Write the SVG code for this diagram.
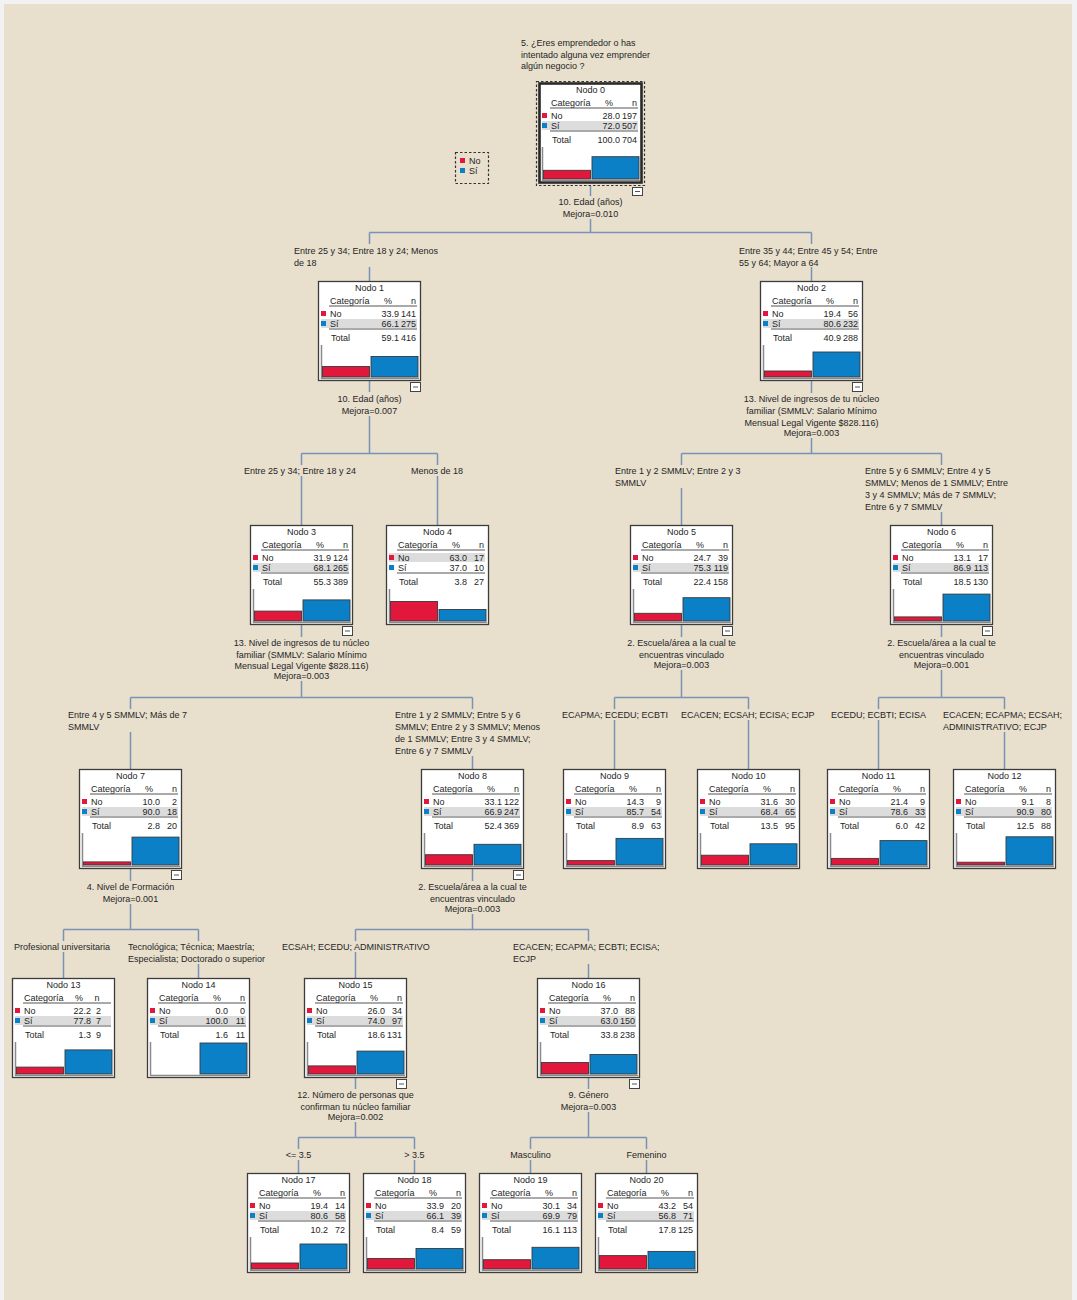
<svg xmlns="http://www.w3.org/2000/svg" width="1077" height="1300" viewBox="0 0 1077 1300">
<style>
.t{font-family:"Liberation Sans",Arial,sans-serif;font-size:9px;fill:#262626}
.m{text-anchor:middle}
.e{text-anchor:end}
.box{fill:#fff;stroke:#3c3c3c;stroke-width:1.3}
.box0{fill:#fff;stroke:#2a2a2a;stroke-width:2.6}
.band{fill:#dcdcdc}
.rule{stroke:#555;stroke-width:1}
.axis{stroke:#8a8a8a;stroke-width:1.5;fill:none}
.sqn{fill:#e1173b}
.sqs{fill:#0b80c6}
.no{fill:#e1173b;stroke:#3a3a3a;stroke-width:0.9}
.si{fill:#0b80c6;stroke:#3a3a3a;stroke-width:0.9}
.conn{stroke:#7892b8;stroke-width:1.5;fill:none}
.btn{fill:#fff;stroke:#444;stroke-width:1}
.dash{fill:none;stroke:#333;stroke-width:1.2;stroke-dasharray:2.5,2}
</style>
<rect x="0" y="0" width="1077" height="1300" fill="#f2f1f3"/>
<rect x="4" y="4" width="1068" height="1296" fill="#e8dfcd"/>

<g id="connectors">
<path class="conn" d="M590.5,186V196M590.5,219V232.5M369.5,232.5H811.5M369.5,232.5V244M369.5,267V281M811.5,232.5V244M811.5,267V281"/>
<path class="conn" d="M369.5,380V392M369.5,416V453.5M301.5,453.5H437.5M301.5,453.5V465M301.5,476V525M437.5,453.5V465M437.5,476V525"/>
<path class="conn" d="M811.5,380V393M811.5,438V453.5M681.5,453.5H941.5M681.5,453.5V465M681.5,488V525M941.5,453.5V465M941.5,512V525"/>
<path class="conn" d="M301.5,624V637M301.5,681V697.5M130.5,697.5H472.5M130.5,697.5V709M130.5,732V769M472.5,697.5V709M472.5,756V769"/>
<path class="conn" d="M681.5,624V637M681.5,670V697.5M614.5,697.5H748.5M614.5,697.5V709M614.5,720V769M748.5,697.5V709M748.5,720V769"/>
<path class="conn" d="M941.5,624V637M941.5,670V697.5M878.5,697.5H1004.5M878.5,697.5V709M878.5,720V769M1004.5,697.5V709M1004.5,732V769"/>
<path class="conn" d="M130.5,868V881M130.5,904V929.5M63.5,929.5H198.5M63.5,929.5V941M63.5,952V978M198.5,929.5V941M198.5,964V978"/>
<path class="conn" d="M472.5,868V881M472.5,914V929.5M355.5,929.5H588.5M355.5,929.5V941M355.5,952V978M588.5,929.5V941M588.5,964V978"/>
<path class="conn" d="M355.5,1077V1089M355.5,1122V1137.5M298.5,1137.5H414.5M298.5,1137.5V1149M298.5,1160V1173M414.5,1137.5V1149M414.5,1160V1173"/>
<path class="conn" d="M588.5,1077V1089M588.5,1112V1137.5M530.5,1137.5H646.5M530.5,1137.5V1149M530.5,1160V1173M646.5,1137.5V1149M646.5,1160V1173"/>
</g>

<g id="labels">
<text class="t" x="521" y="46">5. ¿Eres emprendedor o has</text>
<text class="t" x="521" y="58">intentado alguna vez emprender</text>
<text class="t" x="521" y="69">algún negocio ?</text>
<text class="t m" x="590.5" y="205">10. Edad (años)</text>
<text class="t m" x="590.5" y="217">Mejora=0.010</text>
<text class="t" x="294" y="254">Entre 25 y 34; Entre 18 y 24; Menos</text>
<text class="t" x="294" y="266">de 18</text>
<text class="t" x="739" y="254">Entre 35 y 44; Entre 45 y 54; Entre</text>
<text class="t" x="739" y="266">55 y 64; Mayor a 64</text>
<text class="t m" x="369.5" y="402">10. Edad (años)</text>
<text class="t m" x="369.5" y="414">Mejora=0.007</text>
<text class="t m" x="811.5" y="402">13. Nivel de ingresos de tu núcleo</text>
<text class="t m" x="811.5" y="414">familiar (SMMLV: Salario Mínimo</text>
<text class="t m" x="811.5" y="426">Mensual Legal Vigente $828.116)</text>
<text class="t m" x="811.5" y="436">Mejora=0.003</text>
<text class="t" x="244" y="474">Entre 25 y 34; Entre 18 y 24</text>
<text class="t" x="411" y="474">Menos de 18</text>
<text class="t" x="615" y="474">Entre 1 y 2 SMMLV; Entre 2 y 3</text>
<text class="t" x="615" y="486">SMMLV</text>
<text class="t" x="865" y="474">Entre 5 y 6 SMMLV; Entre 4 y 5</text>
<text class="t" x="865" y="486">SMMLV; Menos de 1 SMMLV; Entre</text>
<text class="t" x="865" y="498">3 y 4 SMMLV; Más de 7 SMMLV;</text>
<text class="t" x="865" y="510">Entre 6 y 7 SMMLV</text>
<text class="t m" x="301.5" y="646">13. Nivel de ingresos de tu núcleo</text>
<text class="t m" x="301.5" y="658">familiar (SMMLV: Salario Mínimo</text>
<text class="t m" x="301.5" y="669">Mensual Legal Vigente $828.116)</text>
<text class="t m" x="301.5" y="679">Mejora=0.003</text>
<text class="t m" x="681.5" y="646">2. Escuela/área a la cual te</text>
<text class="t m" x="681.5" y="658">encuentras vinculado</text>
<text class="t m" x="681.5" y="668">Mejora=0.003</text>
<text class="t m" x="941.5" y="646">2. Escuela/área a la cual te</text>
<text class="t m" x="941.5" y="658">encuentras vinculado</text>
<text class="t m" x="941.5" y="668">Mejora=0.001</text>
<text class="t" x="68" y="718">Entre 4 y 5 SMMLV; Más de 7</text>
<text class="t" x="68" y="730">SMMLV</text>
<text class="t" x="395" y="718">Entre 1 y 2 SMMLV; Entre 5 y 6</text>
<text class="t" x="395" y="730">SMMLV; Entre 2 y 3 SMMLV; Menos</text>
<text class="t" x="395" y="742">de 1 SMMLV; Entre 3 y 4 SMMLV;</text>
<text class="t" x="395" y="754">Entre 6 y 7 SMMLV</text>
<text class="t" x="562" y="718">ECAPMA; ECEDU; ECBTI</text>
<text class="t" x="681" y="718">ECACEN; ECSAH; ECISA; ECJP</text>
<text class="t" x="831" y="718">ECEDU; ECBTI; ECISA</text>
<text class="t" x="943" y="718">ECACEN; ECAPMA; ECSAH;</text>
<text class="t" x="943" y="730">ADMINISTRATIVO; ECJP</text>
<text class="t m" x="130.5" y="890">4. Nivel de Formación</text>
<text class="t m" x="130.5" y="902">Mejora=0.001</text>
<text class="t m" x="472.5" y="890">2. Escuela/área a la cual te</text>
<text class="t m" x="472.5" y="902">encuentras vinculado</text>
<text class="t m" x="472.5" y="912">Mejora=0.003</text>
<text class="t" x="14" y="950">Profesional universitaria</text>
<text class="t" x="128" y="950">Tecnológica; Técnica; Maestría;</text>
<text class="t" x="128" y="962">Especialista; Doctorado o superior</text>
<text class="t" x="282" y="950">ECSAH; ECEDU; ADMINISTRATIVO</text>
<text class="t" x="513" y="950">ECACEN; ECAPMA; ECBTI; ECISA;</text>
<text class="t" x="513" y="962">ECJP</text>
<text class="t m" x="355.5" y="1098">12. Número de personas que</text>
<text class="t m" x="355.5" y="1110">confirman tu núcleo familiar</text>
<text class="t m" x="355.5" y="1120">Mejora=0.002</text>
<text class="t m" x="588.5" y="1098">9. Género</text>
<text class="t m" x="588.5" y="1110">Mejora=0.003</text>
<text class="t m" x="298.5" y="1158">&lt;= 3.5</text>
<text class="t m" x="414.5" y="1158">&gt; 3.5</text>
<text class="t m" x="530.5" y="1158">Masculino</text>
<text class="t m" x="646.5" y="1158">Femenino</text>
</g>

<g id="legend">
<rect class="dash" x="455.5" y="152.5" width="33" height="31"/>
<rect class="sqn" x="460" y="158" width="5" height="5"/>
<text class="t" x="469" y="164">No</text>
<rect class="sqs" x="460" y="168" width="5" height="5"/>
<text class="t" x="469" y="174">Sí</text>
</g>

<g id="node0" transform="translate(539,83)">
<rect class="dash" x="-2.5" y="-1.5" width="108" height="104"/>
<rect class="box0" x="0.5" y="0.5" width="102" height="99"/>
<rect class="band" x="3" y="38" width="96" height="9"/>
<text class="t m" x="51.5" y="10">Nodo 0</text>
<text class="t" x="12" y="23">Categoría</text><text class="t m" x="70" y="23">%</text><text class="t e" x="98" y="23">n</text>
<line class="rule" x1="11" y1="25" x2="99" y2="25"/>
<rect class="sqn" x="3" y="30" width="5" height="5"/><text class="t" x="12" y="36">No</text><text class="t e" x="81" y="36">28.0</text><text class="t e" x="98" y="36">197</text>
<rect class="sqs" x="3" y="40" width="5" height="5"/><text class="t" x="12" y="46">Sí</text><text class="t e" x="81" y="46">72.0</text><text class="t e" x="98" y="46">507</text>
<line class="rule" x1="11" y1="48" x2="99" y2="48"/>
<text class="t" x="13" y="60">Total</text><text class="t e" x="81" y="60">100.0</text><text class="t e" x="98" y="60">704</text>
<path class="axis" d="M3.5,64V97.5H101"/>
<rect class="no" x="4.5" y="87.3" width="47" height="8.7"/>
<rect class="si" x="53" y="73.7" width="47" height="22.3"/>
<rect class="btn" x="93.5" y="104.5" width="10" height="8"/><line class="rule" x1="96" y1="108.5" x2="101" y2="108.5"/>
</g>

<g id="node1" transform="translate(318,281)">
<rect class="box" x="0.5" y="0.5" width="102" height="99"/>
<rect class="band" x="3" y="38" width="96" height="9"/>
<text class="t m" x="51.5" y="10">Nodo 1</text>
<text class="t" x="12" y="23">Categoría</text><text class="t m" x="70" y="23">%</text><text class="t e" x="98" y="23">n</text>
<line class="rule" x1="11" y1="25" x2="99" y2="25"/>
<rect class="sqn" x="3" y="30" width="5" height="5"/><text class="t" x="12" y="36">No</text><text class="t e" x="81" y="36">33.9</text><text class="t e" x="98" y="36">141</text>
<rect class="sqs" x="3" y="40" width="5" height="5"/><text class="t" x="12" y="46">Sí</text><text class="t e" x="81" y="46">66.1</text><text class="t e" x="98" y="46">275</text>
<line class="rule" x1="11" y1="48" x2="99" y2="48"/>
<text class="t" x="13" y="60">Total</text><text class="t e" x="81" y="60">59.1</text><text class="t e" x="98" y="60">416</text>
<path class="axis" d="M3.5,64V97.5H101"/>
<rect class="no" x="4.5" y="85.5" width="47" height="10.5"/>
<rect class="si" x="53" y="75.5" width="47" height="20.5"/>
<rect class="btn" x="92.5" y="101.5" width="10" height="9"/><line class="rule" x1="95" y1="106" x2="100" y2="106"/>
</g>

<g id="node2" transform="translate(760,281)">
<rect class="box" x="0.5" y="0.5" width="102" height="99"/>
<rect class="band" x="3" y="38" width="96" height="9"/>
<text class="t m" x="51.5" y="10">Nodo 2</text>
<text class="t" x="12" y="23">Categoría</text><text class="t m" x="70" y="23">%</text><text class="t e" x="98" y="23">n</text>
<line class="rule" x1="11" y1="25" x2="99" y2="25"/>
<rect class="sqn" x="3" y="30" width="5" height="5"/><text class="t" x="12" y="36">No</text><text class="t e" x="81" y="36">19.4</text><text class="t e" x="98" y="36">56</text>
<rect class="sqs" x="3" y="40" width="5" height="5"/><text class="t" x="12" y="46">Sí</text><text class="t e" x="81" y="46">80.6</text><text class="t e" x="98" y="46">232</text>
<line class="rule" x1="11" y1="48" x2="99" y2="48"/>
<text class="t" x="13" y="60">Total</text><text class="t e" x="81" y="60">40.9</text><text class="t e" x="98" y="60">288</text>
<path class="axis" d="M3.5,64V97.5H101"/>
<rect class="no" x="4.5" y="90" width="47" height="6"/>
<rect class="si" x="53" y="71" width="47" height="25"/>
<rect class="btn" x="92.5" y="101.5" width="10" height="9"/><line class="rule" x1="95" y1="106" x2="100" y2="106"/>
</g>

<g id="node3" transform="translate(250,525)">
<rect class="box" x="0.5" y="0.5" width="102" height="99"/>
<rect class="band" x="3" y="38" width="96" height="9"/>
<text class="t m" x="51.5" y="10">Nodo 3</text>
<text class="t" x="12" y="23">Categoría</text><text class="t m" x="70" y="23">%</text><text class="t e" x="98" y="23">n</text>
<line class="rule" x1="11" y1="25" x2="99" y2="25"/>
<rect class="sqn" x="3" y="30" width="5" height="5"/><text class="t" x="12" y="36">No</text><text class="t e" x="81" y="36">31.9</text><text class="t e" x="98" y="36">124</text>
<rect class="sqs" x="3" y="40" width="5" height="5"/><text class="t" x="12" y="46">Sí</text><text class="t e" x="81" y="46">68.1</text><text class="t e" x="98" y="46">265</text>
<line class="rule" x1="11" y1="48" x2="99" y2="48"/>
<text class="t" x="13" y="60">Total</text><text class="t e" x="81" y="60">55.3</text><text class="t e" x="98" y="60">389</text>
<path class="axis" d="M3.5,64V97.5H101"/>
<rect class="no" x="4.5" y="86.1" width="47" height="9.9"/>
<rect class="si" x="53" y="74.9" width="47" height="21.1"/>
<rect class="btn" x="92.5" y="101.5" width="10" height="9"/><line class="rule" x1="95" y1="106" x2="100" y2="106"/>
</g>

<g id="node4" transform="translate(386,525)">
<rect class="box" x="0.5" y="0.5" width="102" height="99"/>
<rect class="band" x="3" y="28" width="96" height="9"/>
<text class="t m" x="51.5" y="10">Nodo 4</text>
<text class="t" x="12" y="23">Categoría</text><text class="t m" x="70" y="23">%</text><text class="t e" x="98" y="23">n</text>
<line class="rule" x1="11" y1="25" x2="99" y2="25"/>
<rect class="sqn" x="3" y="30" width="5" height="5"/><text class="t" x="12" y="36">No</text><text class="t e" x="81" y="36">63.0</text><text class="t e" x="98" y="36">17</text>
<rect class="sqs" x="3" y="40" width="5" height="5"/><text class="t" x="12" y="46">Sí</text><text class="t e" x="81" y="46">37.0</text><text class="t e" x="98" y="46">10</text>
<line class="rule" x1="11" y1="48" x2="99" y2="48"/>
<text class="t" x="13" y="60">Total</text><text class="t e" x="81" y="60">3.8</text><text class="t e" x="98" y="60">27</text>
<path class="axis" d="M3.5,64V97.5H101"/>
<rect class="no" x="4.5" y="76.5" width="47" height="19.5"/>
<rect class="si" x="53" y="84.5" width="47" height="11.5"/>
</g>

<g id="node5" transform="translate(630,525)">
<rect class="box" x="0.5" y="0.5" width="102" height="99"/>
<rect class="band" x="3" y="38" width="96" height="9"/>
<text class="t m" x="51.5" y="10">Nodo 5</text>
<text class="t" x="12" y="23">Categoría</text><text class="t m" x="70" y="23">%</text><text class="t e" x="98" y="23">n</text>
<line class="rule" x1="11" y1="25" x2="99" y2="25"/>
<rect class="sqn" x="3" y="30" width="5" height="5"/><text class="t" x="12" y="36">No</text><text class="t e" x="81" y="36">24.7</text><text class="t e" x="98" y="36">39</text>
<rect class="sqs" x="3" y="40" width="5" height="5"/><text class="t" x="12" y="46">Sí</text><text class="t e" x="81" y="46">75.3</text><text class="t e" x="98" y="46">119</text>
<line class="rule" x1="11" y1="48" x2="99" y2="48"/>
<text class="t" x="13" y="60">Total</text><text class="t e" x="81" y="60">22.4</text><text class="t e" x="98" y="60">158</text>
<path class="axis" d="M3.5,64V97.5H101"/>
<rect class="no" x="4.5" y="88.3" width="47" height="7.7"/>
<rect class="si" x="53" y="72.7" width="47" height="23.3"/>
<rect class="btn" x="92.5" y="101.5" width="10" height="9"/><line class="rule" x1="95" y1="106" x2="100" y2="106"/>
</g>

<g id="node6" transform="translate(890,525)">
<rect class="box" x="0.5" y="0.5" width="102" height="99"/>
<rect class="band" x="3" y="38" width="96" height="9"/>
<text class="t m" x="51.5" y="10">Nodo 6</text>
<text class="t" x="12" y="23">Categoría</text><text class="t m" x="70" y="23">%</text><text class="t e" x="98" y="23">n</text>
<line class="rule" x1="11" y1="25" x2="99" y2="25"/>
<rect class="sqn" x="3" y="30" width="5" height="5"/><text class="t" x="12" y="36">No</text><text class="t e" x="81" y="36">13.1</text><text class="t e" x="98" y="36">17</text>
<rect class="sqs" x="3" y="40" width="5" height="5"/><text class="t" x="12" y="46">Sí</text><text class="t e" x="81" y="46">86.9</text><text class="t e" x="98" y="46">113</text>
<line class="rule" x1="11" y1="48" x2="99" y2="48"/>
<text class="t" x="13" y="60">Total</text><text class="t e" x="81" y="60">18.5</text><text class="t e" x="98" y="60">130</text>
<path class="axis" d="M3.5,64V97.5H101"/>
<rect class="no" x="4.5" y="91.9" width="47" height="4.1"/>
<rect class="si" x="53" y="69.1" width="47" height="26.9"/>
<rect class="btn" x="92.5" y="101.5" width="10" height="9"/><line class="rule" x1="95" y1="106" x2="100" y2="106"/>
</g>

<g id="node7" transform="translate(79,769)">
<rect class="box" x="0.5" y="0.5" width="102" height="99"/>
<rect class="band" x="3" y="38" width="96" height="9"/>
<text class="t m" x="51.5" y="10">Nodo 7</text>
<text class="t" x="12" y="23">Categoría</text><text class="t m" x="70" y="23">%</text><text class="t e" x="98" y="23">n</text>
<line class="rule" x1="11" y1="25" x2="99" y2="25"/>
<rect class="sqn" x="3" y="30" width="5" height="5"/><text class="t" x="12" y="36">No</text><text class="t e" x="81" y="36">10.0</text><text class="t e" x="98" y="36">2</text>
<rect class="sqs" x="3" y="40" width="5" height="5"/><text class="t" x="12" y="46">Sí</text><text class="t e" x="81" y="46">90.0</text><text class="t e" x="98" y="46">18</text>
<line class="rule" x1="11" y1="48" x2="99" y2="48"/>
<text class="t" x="13" y="60">Total</text><text class="t e" x="81" y="60">2.8</text><text class="t e" x="98" y="60">20</text>
<path class="axis" d="M3.5,64V97.5H101"/>
<rect class="no" x="4.5" y="92.9" width="47" height="3.1"/>
<rect class="si" x="53" y="68.1" width="47" height="27.9"/>
<rect class="btn" x="92.5" y="101.5" width="10" height="9"/><line class="rule" x1="95" y1="106" x2="100" y2="106"/>
</g>

<g id="node8" transform="translate(421,769)">
<rect class="box" x="0.5" y="0.5" width="102" height="99"/>
<rect class="band" x="3" y="38" width="96" height="9"/>
<text class="t m" x="51.5" y="10">Nodo 8</text>
<text class="t" x="12" y="23">Categoría</text><text class="t m" x="70" y="23">%</text><text class="t e" x="98" y="23">n</text>
<line class="rule" x1="11" y1="25" x2="99" y2="25"/>
<rect class="sqn" x="3" y="30" width="5" height="5"/><text class="t" x="12" y="36">No</text><text class="t e" x="81" y="36">33.1</text><text class="t e" x="98" y="36">122</text>
<rect class="sqs" x="3" y="40" width="5" height="5"/><text class="t" x="12" y="46">Sí</text><text class="t e" x="81" y="46">66.9</text><text class="t e" x="98" y="46">247</text>
<line class="rule" x1="11" y1="48" x2="99" y2="48"/>
<text class="t" x="13" y="60">Total</text><text class="t e" x="81" y="60">52.4</text><text class="t e" x="98" y="60">369</text>
<path class="axis" d="M3.5,64V97.5H101"/>
<rect class="no" x="4.5" y="85.7" width="47" height="10.3"/>
<rect class="si" x="53" y="75.3" width="47" height="20.7"/>
<rect class="btn" x="92.5" y="101.5" width="10" height="9"/><line class="rule" x1="95" y1="106" x2="100" y2="106"/>
</g>

<g id="node9" transform="translate(563,769)">
<rect class="box" x="0.5" y="0.5" width="102" height="99"/>
<rect class="band" x="3" y="38" width="96" height="9"/>
<text class="t m" x="51.5" y="10">Nodo 9</text>
<text class="t" x="12" y="23">Categoría</text><text class="t m" x="70" y="23">%</text><text class="t e" x="98" y="23">n</text>
<line class="rule" x1="11" y1="25" x2="99" y2="25"/>
<rect class="sqn" x="3" y="30" width="5" height="5"/><text class="t" x="12" y="36">No</text><text class="t e" x="81" y="36">14.3</text><text class="t e" x="98" y="36">9</text>
<rect class="sqs" x="3" y="40" width="5" height="5"/><text class="t" x="12" y="46">Sí</text><text class="t e" x="81" y="46">85.7</text><text class="t e" x="98" y="46">54</text>
<line class="rule" x1="11" y1="48" x2="99" y2="48"/>
<text class="t" x="13" y="60">Total</text><text class="t e" x="81" y="60">8.9</text><text class="t e" x="98" y="60">63</text>
<path class="axis" d="M3.5,64V97.5H101"/>
<rect class="no" x="4.5" y="91.6" width="47" height="4.4"/>
<rect class="si" x="53" y="69.4" width="47" height="26.6"/>
</g>

<g id="node10" transform="translate(697,769)">
<rect class="box" x="0.5" y="0.5" width="102" height="99"/>
<rect class="band" x="3" y="38" width="96" height="9"/>
<text class="t m" x="51.5" y="10">Nodo 10</text>
<text class="t" x="12" y="23">Categoría</text><text class="t m" x="70" y="23">%</text><text class="t e" x="98" y="23">n</text>
<line class="rule" x1="11" y1="25" x2="99" y2="25"/>
<rect class="sqn" x="3" y="30" width="5" height="5"/><text class="t" x="12" y="36">No</text><text class="t e" x="81" y="36">31.6</text><text class="t e" x="98" y="36">30</text>
<rect class="sqs" x="3" y="40" width="5" height="5"/><text class="t" x="12" y="46">Sí</text><text class="t e" x="81" y="46">68.4</text><text class="t e" x="98" y="46">65</text>
<line class="rule" x1="11" y1="48" x2="99" y2="48"/>
<text class="t" x="13" y="60">Total</text><text class="t e" x="81" y="60">13.5</text><text class="t e" x="98" y="60">95</text>
<path class="axis" d="M3.5,64V97.5H101"/>
<rect class="no" x="4.5" y="86.2" width="47" height="9.8"/>
<rect class="si" x="53" y="74.8" width="47" height="21.2"/>
</g>

<g id="node11" transform="translate(827,769)">
<rect class="box" x="0.5" y="0.5" width="102" height="99"/>
<rect class="band" x="3" y="38" width="96" height="9"/>
<text class="t m" x="51.5" y="10">Nodo 11</text>
<text class="t" x="12" y="23">Categoría</text><text class="t m" x="70" y="23">%</text><text class="t e" x="98" y="23">n</text>
<line class="rule" x1="11" y1="25" x2="99" y2="25"/>
<rect class="sqn" x="3" y="30" width="5" height="5"/><text class="t" x="12" y="36">No</text><text class="t e" x="81" y="36">21.4</text><text class="t e" x="98" y="36">9</text>
<rect class="sqs" x="3" y="40" width="5" height="5"/><text class="t" x="12" y="46">Sí</text><text class="t e" x="81" y="46">78.6</text><text class="t e" x="98" y="46">33</text>
<line class="rule" x1="11" y1="48" x2="99" y2="48"/>
<text class="t" x="13" y="60">Total</text><text class="t e" x="81" y="60">6.0</text><text class="t e" x="98" y="60">42</text>
<path class="axis" d="M3.5,64V97.5H101"/>
<rect class="no" x="4.5" y="89.4" width="47" height="6.6"/>
<rect class="si" x="53" y="71.6" width="47" height="24.4"/>
</g>

<g id="node12" transform="translate(953,769)">
<rect class="box" x="0.5" y="0.5" width="102" height="99"/>
<rect class="band" x="3" y="38" width="96" height="9"/>
<text class="t m" x="51.5" y="10">Nodo 12</text>
<text class="t" x="12" y="23">Categoría</text><text class="t m" x="70" y="23">%</text><text class="t e" x="98" y="23">n</text>
<line class="rule" x1="11" y1="25" x2="99" y2="25"/>
<rect class="sqn" x="3" y="30" width="5" height="5"/><text class="t" x="12" y="36">No</text><text class="t e" x="81" y="36">9.1</text><text class="t e" x="98" y="36">8</text>
<rect class="sqs" x="3" y="40" width="5" height="5"/><text class="t" x="12" y="46">Sí</text><text class="t e" x="81" y="46">90.9</text><text class="t e" x="98" y="46">80</text>
<line class="rule" x1="11" y1="48" x2="99" y2="48"/>
<text class="t" x="13" y="60">Total</text><text class="t e" x="81" y="60">12.5</text><text class="t e" x="98" y="60">88</text>
<path class="axis" d="M3.5,64V97.5H101"/>
<rect class="no" x="4.5" y="93.2" width="47" height="2.8"/>
<rect class="si" x="53" y="67.8" width="47" height="28.2"/>
</g>

<g id="node13" transform="translate(12,978)">
<rect class="box" x="0.5" y="0.5" width="102" height="99"/>
<rect class="band" x="3" y="38" width="96" height="9"/>
<text class="t m" x="51.5" y="10">Nodo 13</text>
<text class="t" x="12" y="23">Categoría</text><text class="t m" x="67" y="23">%</text><text class="t m" x="85" y="23">n</text>
<line class="rule" x1="11" y1="25" x2="99" y2="25"/>
<rect class="sqn" x="3" y="30" width="5" height="5"/><text class="t" x="12" y="36">No</text><text class="t e" x="79" y="36">22.2</text><text class="t e" x="89" y="36">2</text>
<rect class="sqs" x="3" y="40" width="5" height="5"/><text class="t" x="12" y="46">Sí</text><text class="t e" x="79" y="46">77.8</text><text class="t e" x="89" y="46">7</text>
<line class="rule" x1="11" y1="48" x2="99" y2="48"/>
<text class="t" x="13" y="60">Total</text><text class="t e" x="79" y="60">1.3</text><text class="t e" x="89" y="60">9</text>
<path class="axis" d="M3.5,64V97.5H101"/>
<rect class="no" x="4.5" y="89.1" width="47" height="6.9"/>
<rect class="si" x="53" y="71.9" width="47" height="24.1"/>
</g>

<g id="node14" transform="translate(147,978)">
<rect class="box" x="0.5" y="0.5" width="102" height="99"/>
<rect class="band" x="3" y="38" width="96" height="9"/>
<text class="t m" x="51.5" y="10">Nodo 14</text>
<text class="t" x="12" y="23">Categoría</text><text class="t m" x="70" y="23">%</text><text class="t e" x="98" y="23">n</text>
<line class="rule" x1="11" y1="25" x2="99" y2="25"/>
<rect class="sqn" x="3" y="30" width="5" height="5"/><text class="t" x="12" y="36">No</text><text class="t e" x="81" y="36">0.0</text><text class="t e" x="98" y="36">0</text>
<rect class="sqs" x="3" y="40" width="5" height="5"/><text class="t" x="12" y="46">Sí</text><text class="t e" x="81" y="46">100.0</text><text class="t e" x="98" y="46">11</text>
<line class="rule" x1="11" y1="48" x2="99" y2="48"/>
<text class="t" x="13" y="60">Total</text><text class="t e" x="81" y="60">1.6</text><text class="t e" x="98" y="60">11</text>
<path class="axis" d="M3.5,64V97.5H101"/>
<rect class="si" x="53" y="65" width="47" height="31"/>
</g>

<g id="node15" transform="translate(304,978)">
<rect class="box" x="0.5" y="0.5" width="102" height="99"/>
<rect class="band" x="3" y="38" width="96" height="9"/>
<text class="t m" x="51.5" y="10">Nodo 15</text>
<text class="t" x="12" y="23">Categoría</text><text class="t m" x="70" y="23">%</text><text class="t e" x="98" y="23">n</text>
<line class="rule" x1="11" y1="25" x2="99" y2="25"/>
<rect class="sqn" x="3" y="30" width="5" height="5"/><text class="t" x="12" y="36">No</text><text class="t e" x="81" y="36">26.0</text><text class="t e" x="98" y="36">34</text>
<rect class="sqs" x="3" y="40" width="5" height="5"/><text class="t" x="12" y="46">Sí</text><text class="t e" x="81" y="46">74.0</text><text class="t e" x="98" y="46">97</text>
<line class="rule" x1="11" y1="48" x2="99" y2="48"/>
<text class="t" x="13" y="60">Total</text><text class="t e" x="81" y="60">18.6</text><text class="t e" x="98" y="60">131</text>
<path class="axis" d="M3.5,64V97.5H101"/>
<rect class="no" x="4.5" y="87.9" width="47" height="8.1"/>
<rect class="si" x="53" y="73.1" width="47" height="22.9"/>
<rect class="btn" x="92.5" y="101.5" width="10" height="9"/><line class="rule" x1="95" y1="106" x2="100" y2="106"/>
</g>

<g id="node16" transform="translate(537,978)">
<rect class="box" x="0.5" y="0.5" width="102" height="99"/>
<rect class="band" x="3" y="38" width="96" height="9"/>
<text class="t m" x="51.5" y="10">Nodo 16</text>
<text class="t" x="12" y="23">Categoría</text><text class="t m" x="70" y="23">%</text><text class="t e" x="98" y="23">n</text>
<line class="rule" x1="11" y1="25" x2="99" y2="25"/>
<rect class="sqn" x="3" y="30" width="5" height="5"/><text class="t" x="12" y="36">No</text><text class="t e" x="81" y="36">37.0</text><text class="t e" x="98" y="36">88</text>
<rect class="sqs" x="3" y="40" width="5" height="5"/><text class="t" x="12" y="46">Sí</text><text class="t e" x="81" y="46">63.0</text><text class="t e" x="98" y="46">150</text>
<line class="rule" x1="11" y1="48" x2="99" y2="48"/>
<text class="t" x="13" y="60">Total</text><text class="t e" x="81" y="60">33.8</text><text class="t e" x="98" y="60">238</text>
<path class="axis" d="M3.5,64V97.5H101"/>
<rect class="no" x="4.5" y="84.5" width="47" height="11.5"/>
<rect class="si" x="53" y="76.5" width="47" height="19.5"/>
<rect class="btn" x="92.5" y="101.5" width="10" height="9"/><line class="rule" x1="95" y1="106" x2="100" y2="106"/>
</g>

<g id="node17" transform="translate(247,1173)">
<rect class="box" x="0.5" y="0.5" width="102" height="99"/>
<rect class="band" x="3" y="38" width="96" height="9"/>
<text class="t m" x="51.5" y="10">Nodo 17</text>
<text class="t" x="12" y="23">Categoría</text><text class="t m" x="70" y="23">%</text><text class="t e" x="98" y="23">n</text>
<line class="rule" x1="11" y1="25" x2="99" y2="25"/>
<rect class="sqn" x="3" y="30" width="5" height="5"/><text class="t" x="12" y="36">No</text><text class="t e" x="81" y="36">19.4</text><text class="t e" x="98" y="36">14</text>
<rect class="sqs" x="3" y="40" width="5" height="5"/><text class="t" x="12" y="46">Sí</text><text class="t e" x="81" y="46">80.6</text><text class="t e" x="98" y="46">58</text>
<line class="rule" x1="11" y1="48" x2="99" y2="48"/>
<text class="t" x="13" y="60">Total</text><text class="t e" x="81" y="60">10.2</text><text class="t e" x="98" y="60">72</text>
<path class="axis" d="M3.5,64V97.5H101"/>
<rect class="no" x="4.5" y="90" width="47" height="6"/>
<rect class="si" x="53" y="71" width="47" height="25"/>
</g>

<g id="node18" transform="translate(363,1173)">
<rect class="box" x="0.5" y="0.5" width="102" height="99"/>
<rect class="band" x="3" y="38" width="96" height="9"/>
<text class="t m" x="51.5" y="10">Nodo 18</text>
<text class="t" x="12" y="23">Categoría</text><text class="t m" x="70" y="23">%</text><text class="t e" x="98" y="23">n</text>
<line class="rule" x1="11" y1="25" x2="99" y2="25"/>
<rect class="sqn" x="3" y="30" width="5" height="5"/><text class="t" x="12" y="36">No</text><text class="t e" x="81" y="36">33.9</text><text class="t e" x="98" y="36">20</text>
<rect class="sqs" x="3" y="40" width="5" height="5"/><text class="t" x="12" y="46">Sí</text><text class="t e" x="81" y="46">66.1</text><text class="t e" x="98" y="46">39</text>
<line class="rule" x1="11" y1="48" x2="99" y2="48"/>
<text class="t" x="13" y="60">Total</text><text class="t e" x="81" y="60">8.4</text><text class="t e" x="98" y="60">59</text>
<path class="axis" d="M3.5,64V97.5H101"/>
<rect class="no" x="4.5" y="85.5" width="47" height="10.5"/>
<rect class="si" x="53" y="75.5" width="47" height="20.5"/>
</g>

<g id="node19" transform="translate(479,1173)">
<rect class="box" x="0.5" y="0.5" width="102" height="99"/>
<rect class="band" x="3" y="38" width="96" height="9"/>
<text class="t m" x="51.5" y="10">Nodo 19</text>
<text class="t" x="12" y="23">Categoría</text><text class="t m" x="70" y="23">%</text><text class="t e" x="98" y="23">n</text>
<line class="rule" x1="11" y1="25" x2="99" y2="25"/>
<rect class="sqn" x="3" y="30" width="5" height="5"/><text class="t" x="12" y="36">No</text><text class="t e" x="81" y="36">30.1</text><text class="t e" x="98" y="36">34</text>
<rect class="sqs" x="3" y="40" width="5" height="5"/><text class="t" x="12" y="46">Sí</text><text class="t e" x="81" y="46">69.9</text><text class="t e" x="98" y="46">79</text>
<line class="rule" x1="11" y1="48" x2="99" y2="48"/>
<text class="t" x="13" y="60">Total</text><text class="t e" x="81" y="60">16.1</text><text class="t e" x="98" y="60">113</text>
<path class="axis" d="M3.5,64V97.5H101"/>
<rect class="no" x="4.5" y="86.7" width="47" height="9.3"/>
<rect class="si" x="53" y="74.3" width="47" height="21.7"/>
</g>

<g id="node20" transform="translate(595,1173)">
<rect class="box" x="0.5" y="0.5" width="102" height="99"/>
<rect class="band" x="3" y="38" width="96" height="9"/>
<text class="t m" x="51.5" y="10">Nodo 20</text>
<text class="t" x="12" y="23">Categoría</text><text class="t m" x="70" y="23">%</text><text class="t e" x="98" y="23">n</text>
<line class="rule" x1="11" y1="25" x2="99" y2="25"/>
<rect class="sqn" x="3" y="30" width="5" height="5"/><text class="t" x="12" y="36">No</text><text class="t e" x="81" y="36">43.2</text><text class="t e" x="98" y="36">54</text>
<rect class="sqs" x="3" y="40" width="5" height="5"/><text class="t" x="12" y="46">Sí</text><text class="t e" x="81" y="46">56.8</text><text class="t e" x="98" y="46">71</text>
<line class="rule" x1="11" y1="48" x2="99" y2="48"/>
<text class="t" x="13" y="60">Total</text><text class="t e" x="81" y="60">17.8</text><text class="t e" x="98" y="60">125</text>
<path class="axis" d="M3.5,64V97.5H101"/>
<rect class="no" x="4.5" y="82.6" width="47" height="13.4"/>
<rect class="si" x="53" y="78.4" width="47" height="17.6"/>
</g>
</svg>
